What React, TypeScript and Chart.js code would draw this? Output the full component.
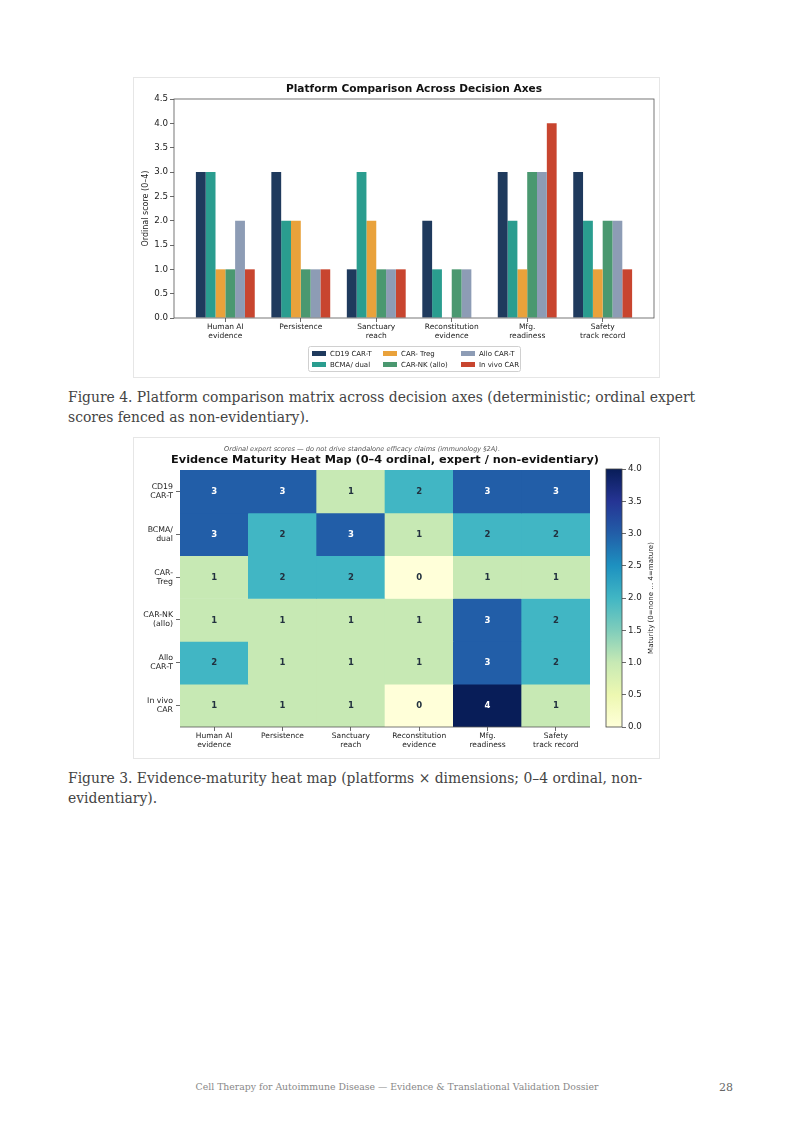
import React, { useEffect, useRef } from 'react';
import { Chart, registerables } from 'chart.js';

Chart.register(...registerables);

// ---------- data ----------
const axisLabels = ['Human AI\nevidence', 'Persistence', 'Sanctuary\nreach', 'Reconstitution\nevidence', 'Mfg.\nreadiness', 'Safety\ntrack record'];
const platforms = ['CD19 CAR-T', 'BCMA/ dual', 'CAR- Treg', 'CAR-NK (allo)', 'Allo CAR-T', 'In vivo CAR'];
const heatRowLabels = ['CD19\nCAR-T', 'BCMA/\ndual', 'CAR-\nTreg', 'CAR-NK\n(allo)', 'Allo\nCAR-T', 'In vivo\nCAR'];
const cd19 = [3, 3, 1, 2, 3, 3];
const bcma = [3, 2, 3, 1, 2, 2];
const treg = [1, 2, 2, 0, 1, 1];
const carNk = [1, 1, 1, 1, 3, 2];
const alloCarT = [2, 1, 1, 1, 3, 2];
const inVivo = [1, 1, 1, 0, 4, 1];
const barYTicks = [0, 0.5, 1, 1.5, 2, 2.5, 3, 3.5, 4, 4.5];
const colorbarTicks = [0, 0.5, 1, 1.5, 2, 2.5, 3, 3.5, 4];

const scores = [cd19, bcma, treg, carNk, alloCarT, inVivo];
const barColors = ['#1f3a5d', '#2a9d8f', '#e9a23b', '#4a9870', '#8d9cb5', '#c8452f'];
const FONT = "'DejaVu Sans', sans-serif";

// YlGnBu colormap
const ylgnbu = ['#ffffd9', '#edf8b1', '#c7e9b4', '#7fcdbb', '#41b6c4', '#1d91c0', '#225ea8', '#253494', '#081d58'];
function hexToRgb(h: string) {
  return [parseInt(h.slice(1, 3), 16), parseInt(h.slice(3, 5), 16), parseInt(h.slice(5, 7), 16)];
}
function cmap(t: number) {
  const n = ylgnbu.length - 1;
  const p = Math.max(0, Math.min(1, t)) * n;
  const i = Math.min(n - 1, Math.floor(p));
  const f = p - i;
  const a = hexToRgb(ylgnbu[i]);
  const b = hexToRgb(ylgnbu[i + 1]);
  const c = a.map((v, k) => Math.round(v + (b[k] - v) * f));
  return `rgb(${c[0]},${c[1]},${c[2]})`;
}

function BarFigure() {
  const ref = useRef<HTMLCanvasElement>(null);
  useEffect(() => {
    const framePlugin = {
      id: 'frame',
      afterDraw(chart: any) {
        const { ctx, chartArea: a } = chart;
        ctx.save();
        ctx.strokeStyle = '#555';
        ctx.lineWidth = 0.8;
        ctx.strokeRect(a.left, a.top, a.right - a.left, a.bottom - a.top);
        // title
        ctx.fillStyle = '#111';
        ctx.font = `bold 10.6px ${FONT}`;
        ctx.textAlign = 'center';
        ctx.textBaseline = 'middle';
        ctx.fillText('Platform Comparison Across Decision Axes', (a.left + a.right) / 2, 12.5);
        // legend
        const w = 212, h = 25;
        const lx = (a.left + a.right) / 2 - w / 2;
        const ly = 269;
        ctx.fillStyle = '#fff';
        ctx.strokeStyle = '#d0d0d0';
        ctx.lineWidth = 1;
        ctx.beginPath();
        (ctx as any).roundRect(lx + 0.5, ly + 0.5, w, h, 2);
        ctx.fill();
        ctx.stroke();
        const colX = [4, 75, 153];
        const rowY = [7.5, 18.5];
        ctx.font = `7px ${FONT}`;
        ctx.textAlign = 'left';
        chart.data.datasets.forEach((ds: any, i: number) => {
          const col = Math.floor(i / 2);
          const row = i % 2;
          const px = lx + colX[col];
          const py = ly + rowY[row];
          ctx.fillStyle = ds.backgroundColor;
          ctx.fillRect(px, py - 2.5, 14, 5);
          ctx.fillStyle = '#222';
          ctx.fillText(ds.label, px + 18, py + 0.5);
        });
        ctx.restore();
      },
    };
    const chart = new Chart(ref.current!, {
      type: 'bar',
      data: {
        datasets: platforms.map((p, i) => ({
          label: p,
          data: scores[i].map((v, j) => ({ x: j, y: v })),
          backgroundColor: barColors[i],
          borderWidth: 0,
          categoryPercentage: 0.78,
          barPercentage: 1,
        })),
      },
      options: {
        responsive: false,
        animation: false,
        devicePixelRatio: 1,
        layout: { padding: { top: 22, right: 6, left: 0, bottom: 0 } },
        plugins: { legend: { display: false }, tooltip: { enabled: false }, title: { display: false } },
        scales: {
          x: {
            type: 'linear',
            offset: false,
            min: -0.68,
            max: 5.68,
            afterBuildTicks: (s: any) => { s.ticks = axisLabels.map((_, i) => ({ value: i })); },
            afterFit: (s: any) => { s.height = 60; },
            ticks: {
              autoSkip: false,
              maxRotation: 0,
              padding: 1,
              color: '#222',
              font: { family: FONT, size: 7.5, lineHeight: 1.15 },
              callback: (v: any) => axisLabels[Math.round(v)].split('\n'),
            },
            grid: { offset: false, drawOnChartArea: false, drawTicks: true, tickLength: 4, color: '#444', lineWidth: 0.8 },
            border: { display: false },
          },
          y: {
            min: 0,
            max: 4.5,
            afterBuildTicks: (s: any) => { s.ticks = barYTicks.map((v) => ({ value: v })); },
            afterFit: (s: any) => { s.width = 41; },
            ticks: {
              padding: 2,
              color: '#222',
              font: { family: FONT, size: 8.7 },
              callback: (v: any) => Number(v).toFixed(1),
            },
            title: {
              display: true,
              text: 'Ordinal score (0–4)',
              color: '#222',
              font: { family: FONT, size: 8 },
              padding: { top: 8, bottom: 0 },
            },
            grid: { drawOnChartArea: false, drawTicks: true, tickLength: 4, color: '#444', lineWidth: 0.8 },
            border: { display: false },
          },
        },
      },
      plugins: [framePlugin],
    } as any);
    return () => chart.destroy();
  }, []);
  return <canvas ref={ref} width={527} height={301} style={{ position: 'absolute', left: 133, top: 77, width: 527, height: 301 }} />;
}

function HeatFigure() {
  const ref = useRef<HTMLCanvasElement>(null);
  const cbRef = useRef<HTMLCanvasElement>(null);
  useEffect(() => {
    const annotPlugin = {
      id: 'annot',
      afterDatasetsDraw(chart: any) {
        const { ctx, chartArea: a } = chart;
        ctx.save();
        ctx.font = `bold 8.5px ${FONT}`;
        ctx.textAlign = 'center';
        ctx.textBaseline = 'middle';
        scores.forEach((row, r) => {
          const meta = chart.getDatasetMeta(r);
          meta.data.forEach((bar: any, j: number) => {
            const v = row[j];
            ctx.fillStyle = v >= 3 ? '#ffffff' : '#22313f';
            ctx.fillText(String(v), bar.x, (bar.y + bar.base) / 2 + 0.5);
          });
        });
        // subtitle and title
        ctx.fillStyle = '#555';
        ctx.font = `italic 6.6px ${FONT}`;
        ctx.fillText('Ordinal expert scores — do not drive standalone efficacy claims (immunology §2A).', 229, 12);
        ctx.fillStyle = '#111';
        ctx.font = `bold 11.3px ${FONT}`;
        ctx.fillText('Evidence Maturity Heat Map (0–4 ordinal, expert / non-evidentiary)', (a.left + a.right) / 2, 23.5);
        // bottom spine
        ctx.strokeStyle = '#555';
        ctx.lineWidth = 0.8;
        ctx.beginPath();
        ctx.moveTo(a.left, a.bottom);
        ctx.lineTo(a.right, a.bottom);
        ctx.stroke();
        ctx.restore();
      },
    };
    const chart = new Chart(ref.current!, {
      type: 'bar',
      data: {
        labels: axisLabels.map((l) => l.split('\n')),
        datasets: scores.map((row, r) => ({
          label: platforms[r],
          data: row.map(() => 1),
          backgroundColor: row.map((v) => cmap(v / 4)),
          borderWidth: 0,
          barPercentage: 1,
          categoryPercentage: 1,
        })),
      },
      options: {
        responsive: false,
        animation: false,
        devicePixelRatio: 1,
        layout: { padding: { top: 33, right: 70, left: 0, bottom: 0 } },
        plugins: { legend: { display: false }, tooltip: { enabled: false }, title: { display: false } },
        scales: {
          x: {
            stacked: true,
            afterFit: (s: any) => { s.height = 32; },
            ticks: {
              autoSkip: false,
              maxRotation: 0,
              padding: 1,
              color: '#222',
              font: { family: FONT, size: 7.5, lineHeight: 1.15 },
            },
            grid: { offset: false, drawOnChartArea: false, drawTicks: true, tickLength: 4, color: '#444', lineWidth: 0.8 },
            border: { display: false },
          },
          y: {
            stacked: true,
            reverse: true,
            min: 0,
            max: 6,
            afterBuildTicks: (s: any) => { s.ticks = heatRowLabels.map((_, i) => ({ value: i + 0.5 })); },
            afterFit: (s: any) => { s.width = 47; },
            ticks: {
              padding: 3,
              color: '#222',
              font: { family: FONT, size: 7.8, lineHeight: 1.15 },
              callback: (v: any) => heatRowLabels[Math.floor(v)].split('\n'),
            },
            grid: { drawOnChartArea: false, drawTicks: true, tickLength: 4, color: '#444', lineWidth: 0.8 },
            border: { display: false },
          },
        },
      },
      plugins: [annotPlugin],
    } as any);

    const cbPlugin = {
      id: 'cbframe',
      afterDraw(c: any) {
        const { ctx, chartArea: a } = c;
        ctx.save();
        ctx.strokeStyle = '#444';
        ctx.lineWidth = 0.8;
        ctx.strokeRect(a.left, a.top, a.right - a.left, a.bottom - a.top);
        ctx.translate(51, (a.top + a.bottom) / 2);
        ctx.rotate(-Math.PI / 2);
        ctx.fillStyle = '#222';
        ctx.font = `7px ${FONT}`;
        ctx.textAlign = 'center';
        ctx.textBaseline = 'middle';
        ctx.fillText('Maturity (0=none … 4=mature)', 0, 0);
        ctx.restore();
      },
    };
    const cb = new Chart(cbRef.current!, {
      type: 'bar',
      data: {
        labels: [''],
        datasets: [{
          data: [colorbarTicks[colorbarTicks.length - 1]],
          backgroundColor: (ctx: any) => {
            const { chart: ch } = ctx;
            const a = ch.chartArea;
            if (!a) return '#41b6c4';
            const g = ch.ctx.createLinearGradient(0, a.bottom, 0, a.top);
            ylgnbu.forEach((col, i) => g.addColorStop(i / (ylgnbu.length - 1), col));
            return g;
          },
          borderWidth: 0,
          barPercentage: 1,
          categoryPercentage: 1,
        }],
      },
      options: {
        responsive: false,
        animation: false,
        devicePixelRatio: 1,
        layout: { padding: { top: 32, bottom: 32, left: 6, right: 0 } },
        plugins: { legend: { display: false }, tooltip: { enabled: false } },
        scales: {
          x: { display: false },
          y: {
            position: 'right',
            min: 0,
            max: 4,
            afterBuildTicks: (s: any) => { s.ticks = colorbarTicks.map((v) => ({ value: v })); },
            afterFit: (s: any) => { s.width = 37; },
            ticks: {
              padding: 2,
              color: '#222',
              font: { family: FONT, size: 8.7 },
              callback: (v: any) => Number(v).toFixed(1),
            },
            grid: { drawOnChartArea: false, drawTicks: true, tickLength: 4, color: '#444', lineWidth: 0.8 },
            border: { display: false },
          },
        },
      },
      plugins: [cbPlugin],
    } as any);
    return () => { chart.destroy(); cb.destroy(); };
  }, []);
  return (
    <>
      <canvas ref={ref} width={527} height={322} style={{ position: 'absolute', left: 133, top: 437, width: 527, height: 322 }} />
      <canvas ref={cbRef} width={59} height={322} style={{ position: 'absolute', left: 600, top: 437, width: 59, height: 322 }} />
    </>
  );
}

const captionStyle: React.CSSProperties = {
  position: 'absolute',
  left: 68,
  width: 660,
  fontFamily: "'DejaVu Serif', serif",
  fontSize: 13.9,
  lineHeight: '20px',
  color: '#444',
  margin: 0,
};

export default function App() {
  return (
    <div style={{ position: 'absolute', left: 0, top: 0, width: 794, height: 1123, background: '#fff', overflow: 'hidden' }}>
      <div style={{ position: 'absolute', left: 133, top: 77, width: 527, height: 301, border: '1px solid #e6e6e6', boxSizing: 'border-box' }} />
      <BarFigure />
      <p style={{ ...captionStyle, top: 387 }}>
        Figure 4. Platform comparison matrix across decision axes (deterministic; ordinal expert scores fenced as non-evidentiary).
      </p>
      <div style={{ position: 'absolute', left: 133, top: 437, width: 527, height: 322, border: '1px solid #e6e6e6', boxSizing: 'border-box' }} />
      <HeatFigure />
      <p style={{ ...captionStyle, top: 768 }}>
        Figure 3. Evidence-maturity heat map (platforms × dimensions; 0–4 ordinal, non-evidentiary).
      </p>
      <div style={{ position: 'absolute', left: 0, width: 794, top: 1081, textAlign: 'center', fontFamily: "'DejaVu Serif', serif", fontSize: 9.3, color: '#888' }}>
        Cell Therapy for Autoimmune Disease — Evidence &amp; Translational Validation Dossier
      </div>
      <div style={{ position: 'absolute', left: 719, top: 1081, fontFamily: "'DejaVu Serif', serif", fontSize: 11, color: '#666' }}>
        28
      </div>
    </div>
  );
}
